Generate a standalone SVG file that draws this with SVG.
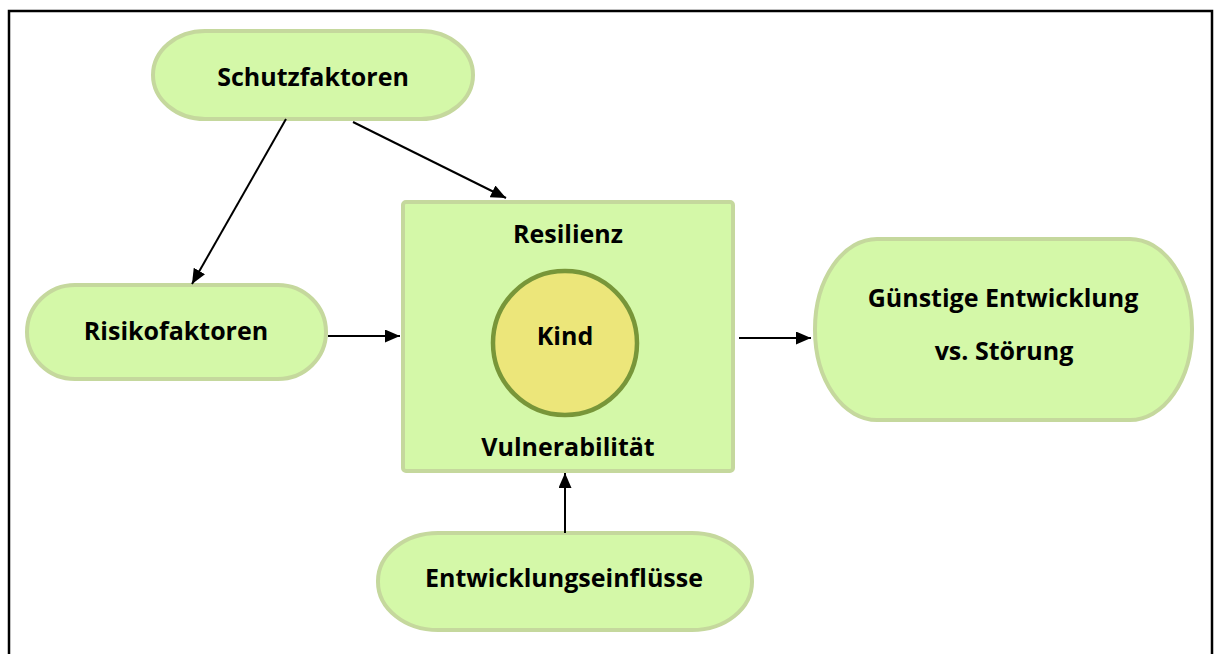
<svg xmlns="http://www.w3.org/2000/svg" width="1214" height="654" viewBox="0 0 1214 654">
<style>
.node{fill:#d4f8a8;stroke:#c5d89d;stroke-width:4}
.lbl{font-family:"Open Sans","Liberation Sans",sans-serif;font-weight:bold;font-size:25px;fill:#000;text-anchor:middle;dominant-baseline:central}
.conn{stroke:#000;stroke-width:2;fill:none;marker-end:url(#ah)}
</style>
<defs>
<marker id="ah" viewBox="0 0 15 13" refX="15" refY="6.5" markerWidth="15" markerHeight="13" markerUnits="userSpaceOnUse" orient="auto">
<path d="M0,0 L15,6.5 L0,13 z" fill="#000"/>
</marker>
</defs>
<rect x="9" y="11" width="1203" height="660" fill="#fff" stroke="#000" stroke-width="2.5"/>
<g id="schutzfaktoren">
<rect class="node" x="153" y="31" width="320" height="88" rx="52" ry="44"/>
<text class="lbl" x="313" y="76">Schutzfaktoren</text>
</g>
<g id="risikofaktoren">
<rect class="node" x="27" y="285" width="299" height="94" rx="48" ry="47"/>
<text class="lbl" x="176" y="330">Risikofaktoren</text>
</g>
<g id="kind-box">
<rect class="node" x="403" y="202" width="330" height="269" rx="3"/>
<text class="lbl" x="568" y="233">Resilienz</text>
<circle cx="565" cy="343" r="72" fill="#ece67a" stroke="#789639" stroke-width="4.5"/>
<text class="lbl" x="565" y="335">Kind</text>
<text class="lbl" x="568" y="446">Vulnerabilität</text>
</g>
<g id="entwicklung">
<rect class="node" x="815" y="239" width="377" height="181" rx="62" ry="90"/>
<text class="lbl" x="1003" y="297">Günstige Entwicklung</text>
<text class="lbl" x="1004" y="350">vs. Störung</text>
</g>
<g id="entwicklungseinfluesse">
<rect class="node" x="378" y="533" width="374" height="97" rx="60" ry="48"/>
<text class="lbl" x="564" y="577">Entwicklungseinflüsse</text>
</g>
<g id="connectors">
<line class="conn" x1="286" y1="119" x2="192" y2="284"/>
<line class="conn" x1="353" y1="122" x2="506" y2="198"/>
<line class="conn" x1="328" y1="336" x2="400" y2="336"/>
<line class="conn" x1="739" y1="338" x2="811" y2="338"/>
<line class="conn" x1="565" y1="533" x2="565" y2="473"/>
</g>
</svg>
